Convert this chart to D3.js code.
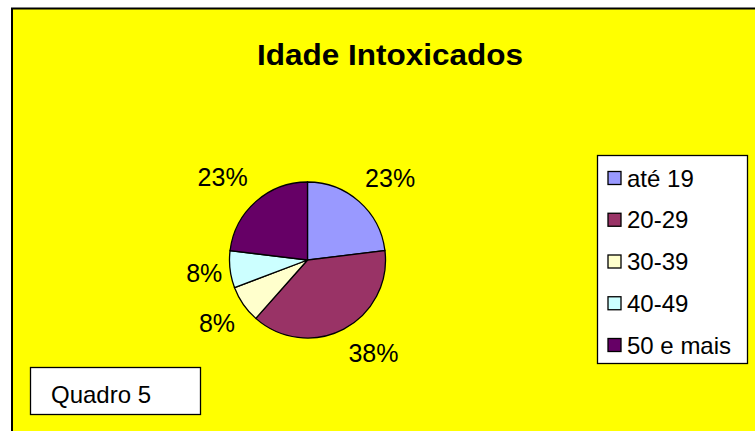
<!DOCTYPE html>
<html><head><meta charset="utf-8">
<script src="https://cdn.jsdelivr.net/npm/d3@7"></script>
<style>html,body{margin:0;padding:0;background:#fff;}svg{display:block;}</style>
</head><body>
<svg id="c" width="755" height="431"></svg>
<script>
const categories = ["até 19", "20-29", "30-39", "40-49", "50 e mais"];
const values = [9, 15, 3, 3, 9];
const colors = ["#9999FF", "#993366", "#FFFFCC", "#CCFFFF", "#660066"];
const title = "Idade Intoxicados";
const note = "Quadro 5";

const FONT = "Liberation Sans, Arial, sans-serif";
const svg = d3.select("#c");
svg.append("rect").attr("x", 12).attr("y", 8.5).attr("width", 760).attr("height", 430)
  .attr("fill", "#FFFF00").attr("stroke", "#000").attr("stroke-width", 2);

svg.append("text").attr("x", 390).attr("y", 65).attr("text-anchor", "middle")
  .attr("font-family", FONT).attr("font-weight", "bold")
  .attr("font-size", 30).attr("textLength", 266).attr("lengthAdjust", "spacingAndGlyphs")
  .text(title);

const cx = 307.5, cy = 260, r = 78;
const pie = d3.pie().sort(null).value(d => d)(values);
const arc = d3.arc().innerRadius(0).outerRadius(r);
const g = svg.append("g").attr("transform", `translate(${cx},${cy})`);
g.selectAll("path").data(pie).join("path").attr("d", arc)
  .attr("fill", (d, i) => colors[i]).attr("stroke", "#000").attr("stroke-width", 1.3);

const total = d3.sum(values);
const fmt = v => Math.round(v / total * 100) + "%";
const labelR = [117, 114, 110, 104, 119];
const labelOff = [[5, 5], [13, -8], [0, 0], [0, 0], [-6, 6]];
g.selectAll("text.lbl").data(pie).join("text").attr("class", "lbl")
  .attr("transform", (d, i) => {
    const c = d3.arc().innerRadius(labelR[i]).outerRadius(labelR[i]).centroid(d);
    return `translate(${c[0] + labelOff[i][0]},${c[1] + labelOff[i][1] + 9.5})`;
  })
  .attr("text-anchor", "middle")
  .attr("font-family", FONT).attr("font-size", 25)
  .text(d => fmt(d.value));

// legend
const lg = svg.append("g");
lg.append("rect").attr("x", 597.5).attr("y", 155.5).attr("width", 150).attr("height", 208)
  .attr("fill", "#fff").attr("stroke", "#000").attr("stroke-width", 1.3);
const ly = d3.scalePoint().domain(categories).range([178, 345]);
const items = lg.selectAll("g.it").data(categories).join("g").attr("class", "it")
  .attr("transform", d => `translate(0,${ly(d)})`);
items.append("rect").attr("x", 608).attr("y", -6.5).attr("width", 13).attr("height", 13)
  .attr("fill", (d, i) => colors[i]).attr("stroke", "#000").attr("stroke-width", 1.3);
items.append("text").attr("x", 627).attr("y", 8.5)
  .attr("font-family", FONT).attr("font-size", 24)
  .text(d => d);

// note box
svg.append("rect").attr("x", 30.5).attr("y", 367.5).attr("width", 170).attr("height", 47)
  .attr("fill", "#fff").attr("stroke", "#000").attr("stroke-width", 1.3);
svg.append("text").attr("x", 51).attr("y", 403)
  .attr("font-family", FONT).attr("font-size", 24)
  .text(note);
</script>
</body></html>
